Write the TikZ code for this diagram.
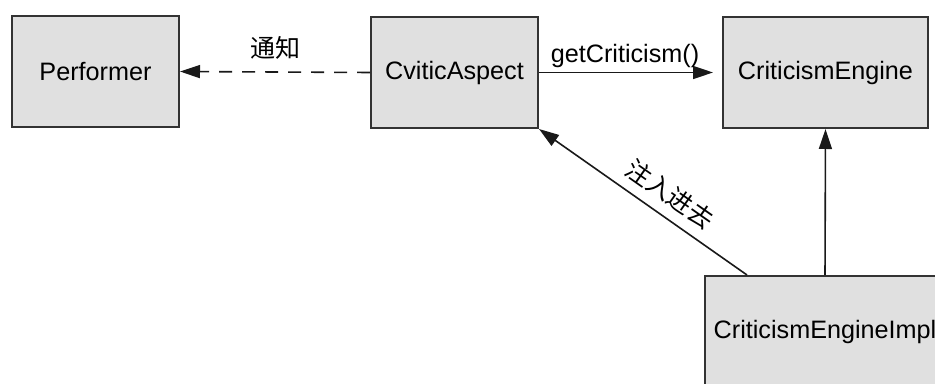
\documentclass[tikz,border=0pt]{standalone}
\usepackage{fontspec}
\setmainfont{Liberation Sans}
\newfontfamily\cjk{Noto Sans CJK SC}
\usetikzlibrary{arrows.meta}
\begin{document}
\begin{tikzpicture}[x=0.5pt,y=-0.5pt,
  box/.style={draw=black!80, fill=black!12, line width=1pt, inner sep=0pt,
    minimum height=55.5pt, font=\fontsize{12.6}{15}\selectfont},
  conn/.style={line width=0.8pt, draw=black!90, -{Triangle[length=10pt,width=6.5pt]}},
  lbl/.style={font=\fontsize{12.6}{15}\selectfont, inner sep=1pt},
  cjklbl/.style={font=\cjk\fontsize{12.5}{14}\selectfont, inner sep=1pt}]
\useasboundingbox (0,0) rectangle (935,384);
\clip (0,0) rectangle (935,384);
\node[box, minimum width=83.5pt] (perf) at (95.5,71.5) {Performer};
\node[box, minimum width=83.5pt] (asp) at (454.5,72.5) {CviticAspect};
\node[box, minimum width=102.5pt] (eng) at (825.5,72.5) {CriticismEngine};
\node[box, minimum width=120pt] (impl) at (825,331.5) {CriticismEngineImpl};
\draw[conn, dash pattern=on 6.5pt off 5pt] (asp.west) -- node[midway, above=5pt, cjklbl] {通知} (perf.east);
\draw[conn, shorten >=4.5pt] (asp.east) -- node[pos=0.47, above=1pt, lbl] {getCriticism()} (eng.west);
\draw[conn] ([xshift=21.5pt]impl.north west) -- node[pos=0.43, sloped, above=4pt, cjklbl] {注入进去} (asp.south east);
\draw[conn] (impl.north) -- (eng.south);
\end{tikzpicture}
\end{document}
